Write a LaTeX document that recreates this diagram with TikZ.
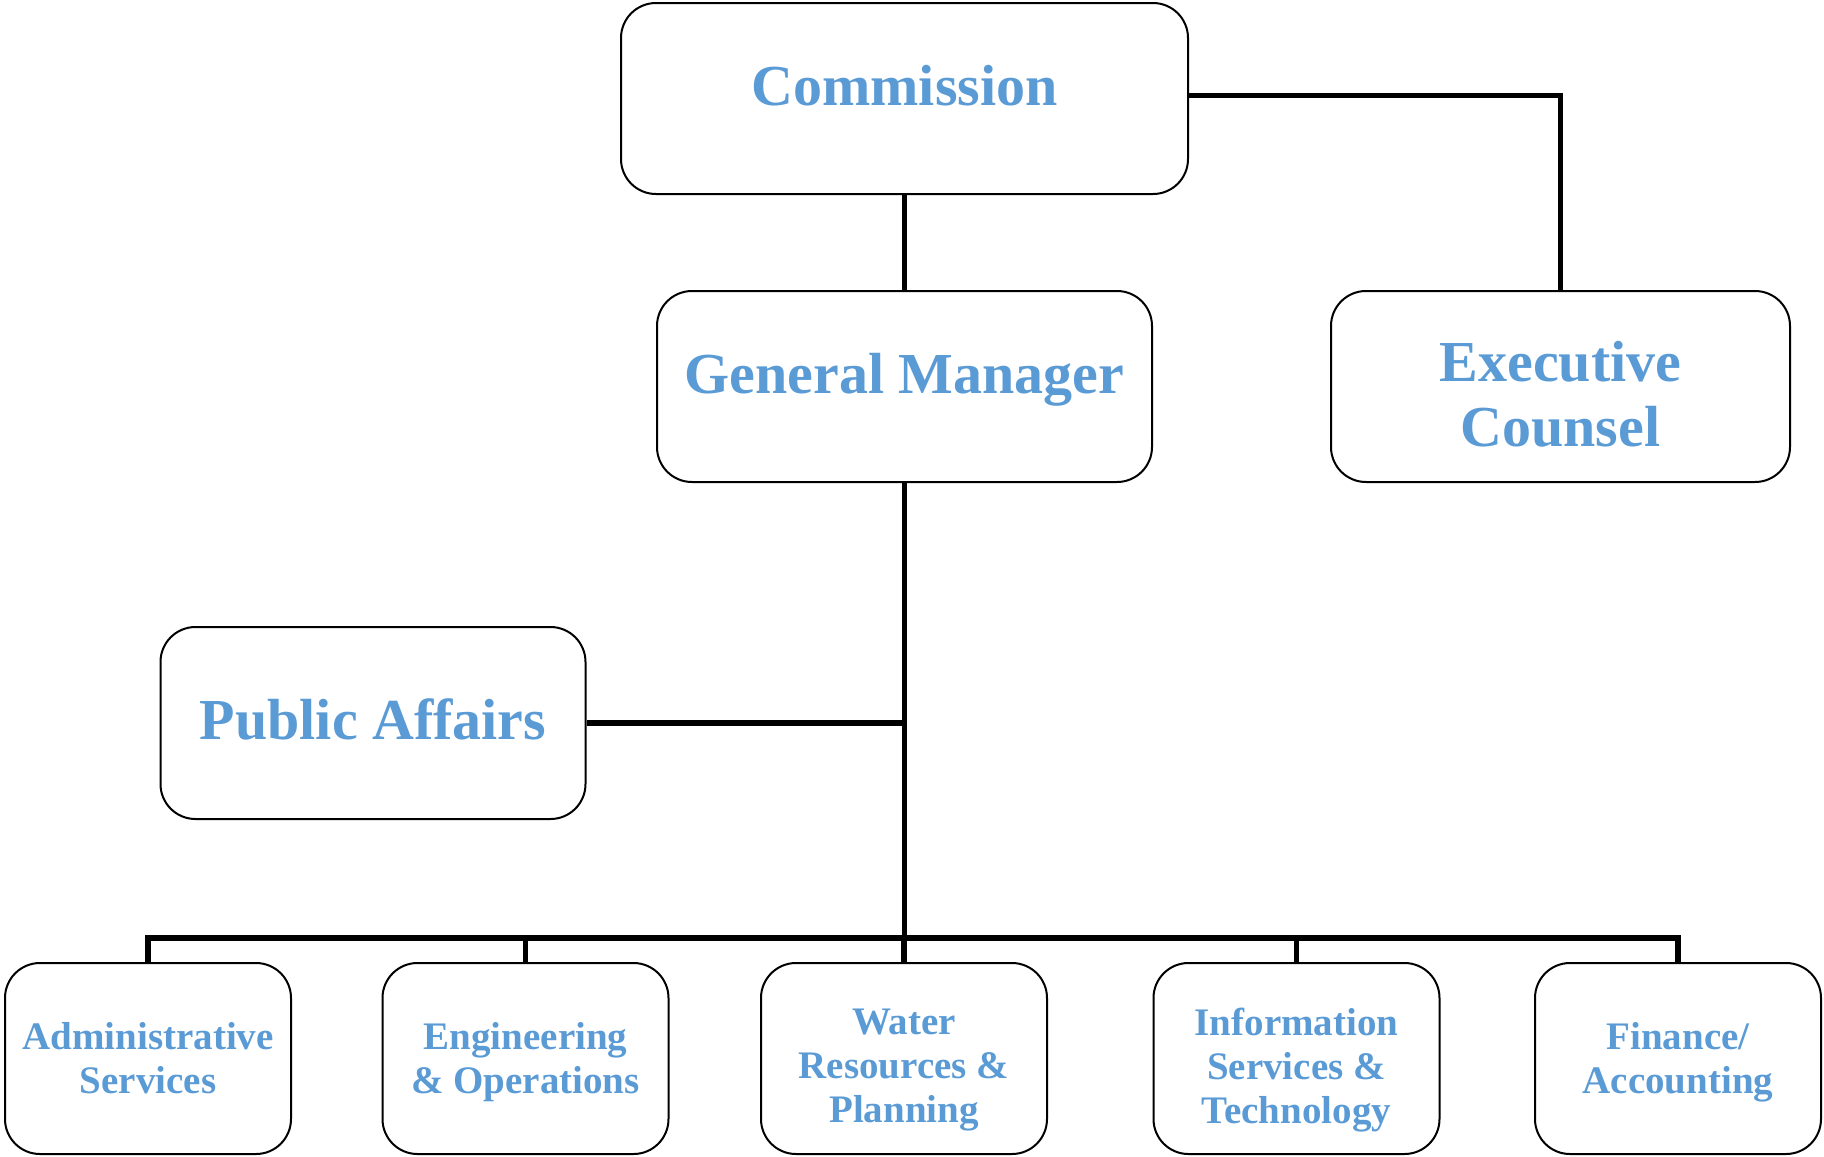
\documentclass[tikz,border=0pt]{standalone}
\usepackage{fontspec}
\setmainfont{Liberation Serif}
\usepackage{tikz}
\usetikzlibrary{positioning}
\definecolor{boxblue}{HTML}{5B9BD5}
\newcommand{\pushdown}[1]{\rule{0pt}{#1}}

\begin{document}
\begin{tikzpicture}[x=1pt,y=-1pt,
		conn/.style={line width=5.5pt},
		unit box/.style={draw,line width=2pt,rounded corners=35pt,inner sep=0pt,
			align=center,text=boxblue,minimum height=191pt,
			font=\bfseries\fontsize{58}{65}\selectfont},
		dept box/.style={unit box,minimum width=286pt,
			font=\bfseries\fontsize{39}{44}\selectfont}]
		\useasboundingbox (0,0) rectangle (1824,1157);
		% top of the chart
		\node[unit box,minimum width=567pt,text depth=26pt] (comm) at (904.5,98.5) {Commission};
		\node[unit box,minimum width=495pt,text depth=26pt] (gm) at (904.5,386.5) {General Manager};
		\node[unit box,minimum width=459pt] (exec) at (1560.5,386.5) {\pushdown{56pt}Executive\\Counsel};
		\node[unit box,minimum width=425pt,minimum height=192pt,text depth=7pt] (pub) at (373,723) {Public Affairs};
		% departments
		\node[dept box] (admin) at (148,1058.5) {Administrative\\Services};
		\node[dept box] (eng) at (525.5,1058.5) {\pushdown{34pt}Engineering\\\& Operations};
		\node[dept box] (water) at (904,1058.5) {\pushdown{49.5pt}Water\\Resources \&\\Planning};
		\node[dept box] (info) at (1296.5,1058.5) {\pushdown{50pt}Information\\Services \&\\Technology};
		\node[dept box] (fin) at (1678,1058.5) {\pushdown{34pt}Finance/\\Accounting};
		\coordinate (bus) at (904.5,938);
		\draw[conn] ([yshift=3pt]comm.east) -| (exec.north);
		\draw[conn] (comm.south) -- (gm.north);
		\draw[conn] (gm.south) -- (bus);
		\draw[conn] (pub.east) -- (pub.east -| gm.south);
		\foreach \b in {admin,eng,water,info,fin}
			\draw[conn] (bus) -| (\b.north);
\end{tikzpicture}
\end{document}
